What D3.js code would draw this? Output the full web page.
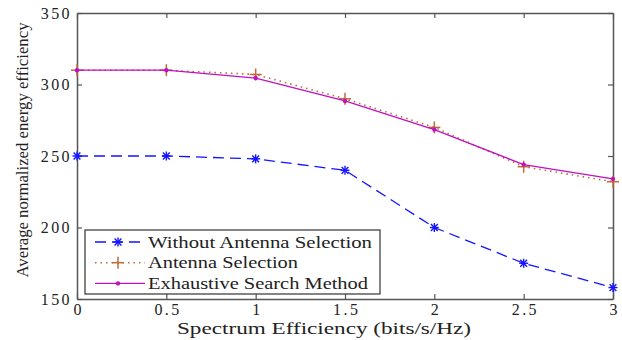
<!DOCTYPE html>
<html>
<head>
<meta charset="utf-8">
<script src="https://cdn.jsdelivr.net/npm/d3@7"></script>
<style>
  body { margin: 0; background: #fff; }
  svg text { font-family: "Liberation Serif", "Times New Roman", serif; fill: #222; }
</style>
</head>
<body>
<div id="chart"></div>
<script>
const xValues = [0, 0.5, 1, 1.5, 2, 2.5, 3];
const withoutSelection = [250, 250, 248, 240, 200, 175, 158];
const antennaSelection = [310, 310, 307, 290, 270, 242.5, 232];
const exhaustiveSearch = [310, 310, 304.5, 288.5, 268.5, 244, 234];
const xTicks = [0, 0.5, 1, 1.5, 2, 2.5, 3];
const yTicks = [150, 200, 250, 300, 350];
const seriesNames = ['Without Antenna Selection', 'Antenna Selection', 'Exhaustive Search Method'];

const W = 622, H = 340;
const margin = { top: 13, right: 9, bottom: 41, left: 77 };
const width = W - margin.left - margin.right;
const height = H - margin.top - margin.bottom;
const serif = '"Liberation Serif", "Times New Roman", serif';

const svg = d3.select('#chart').append('svg')
  .attr('width', W).attr('height', H);
const g = svg.append('g')
  .attr('transform', 'translate(' + margin.left + ',' + margin.top + ')');

const x = d3.scaleLinear().domain([0, 3]).range([0, width]);
const y = d3.scaleLinear().domain([150, 350]).range([height, 0]);

// axes with inward ticks (matlab box style)
const axisColor = '#555';
const axBottom = g.append('g').attr('transform', 'translate(0,' + height + ')')
  .call(d3.axisBottom(x).tickValues(xTicks).tickSizeInner(-5).tickSizeOuter(0).tickPadding(5).tickFormat(d3.format('')));
const axTop = g.append('g')
  .call(d3.axisTop(x).tickValues(xTicks).tickSizeInner(-5).tickSizeOuter(0).tickFormat(''));
const axLeft = g.append('g')
  .call(d3.axisLeft(y).tickValues(yTicks).tickSizeInner(-5).tickSizeOuter(0).tickPadding(5));
const axRight = g.append('g').attr('transform', 'translate(' + width + ',0)')
  .call(d3.axisRight(y).tickValues(yTicks).tickSizeInner(-5).tickSizeOuter(0).tickFormat(''));
[axBottom, axTop, axLeft, axRight].forEach(a => {
  a.selectAll('path.domain').attr('stroke', axisColor).attr('stroke-width', 1.5);
  a.selectAll('line').attr('stroke', axisColor).attr('stroke-width', 1.2);
  a.selectAll('text').style('font-family', serif).style('font-size', '16px')
    .style('letter-spacing', '2.4px').attr('fill', '#222');
});
// compensate the trailing letter-spacing on centred x tick labels
axBottom.selectAll('text').attr('dx', '1.2px');

const series = [
  { name: seriesNames[0], values: withoutSelection, color: '#1414ff', dash: '11,6', marker: 'star', textLen: 224 },
  { name: seriesNames[1], values: antennaSelection, color: '#c06a36', dash: '1.5,4', marker: 'plus', textLen: 150 },
  { name: seriesNames[2], values: exhaustiveSearch, color: '#c010c0', dash: null, marker: 'dot', textLen: 220 }
];

const line = d3.line().x(d => x(d[0])).y(d => y(d[1]));

function drawMarker(sel, type, color, cx, cy) {
  if (type === 'star') {
    // matlab '*' = plus + cross
    const r = 4.5, rd = 3.4;
    [[r, 0], [0, r], [rd, rd], [rd, -rd]].forEach(v => {
      sel.append('line')
        .attr('x1', cx - v[0]).attr('y1', cy - v[1])
        .attr('x2', cx + v[0]).attr('y2', cy + v[1])
        .attr('stroke', color).attr('stroke-width', 1.4);
    });
  } else if (type === 'plus') {
    const r = 6;
    sel.append('line').attr('x1', cx - r).attr('x2', cx + r).attr('y1', cy).attr('y2', cy)
      .attr('stroke', color).attr('stroke-width', 1.5);
    sel.append('line').attr('x1', cx).attr('x2', cx).attr('y1', cy - r).attr('y2', cy + r)
      .attr('stroke', color).attr('stroke-width', 1.5);
  } else {
    sel.append('circle').attr('cx', cx).attr('cy', cy).attr('r', 2.2).attr('fill', color);
  }
}

series.forEach(s => {
  const pts = xValues.map((v, i) => [v, s.values[i]]);
  g.append('path').datum(pts)
    .attr('fill', 'none')
    .attr('stroke', s.color)
    .attr('stroke-width', s.marker === 'plus' ? 1.6 : 1.3)
    .attr('stroke-dasharray', s.dash)
    .attr('d', line);
  const mg = g.append('g');
  pts.forEach(p => drawMarker(mg, s.marker, s.color, x(p[0]), y(p[1])));
});

// legend
const lg = svg.append('g').attr('transform', 'translate(85,230)');
lg.append('rect').attr('width', 295).attr('height', 64)
  .attr('fill', '#fff').attr('stroke', '#333').attr('stroke-width', 1.2);
series.forEach((s, i) => {
  const ly = 12 + i * 20.7;
  lg.append('line').attr('x1', 10).attr('x2', 60).attr('y1', ly).attr('y2', ly)
    .attr('stroke', s.color).attr('stroke-width', s.marker === 'plus' ? 1.6 : 1.3)
    .attr('stroke-dasharray', s.dash);
  drawMarker(lg, s.marker, s.color, 33, ly);
  lg.append('text').attr('x', 63).attr('y', ly).attr('dy', '0.35em')
    .style('font-size', '16px')
    .attr('textLength', s.textLen).attr('lengthAdjust', 'spacingAndGlyphs')
    .text(s.name);
});

// axis labels
svg.append('text').attr('x', 324).attr('y', 334)
  .attr('text-anchor', 'middle').style('font-size', '16px')
  .attr('textLength', 294).attr('lengthAdjust', 'spacingAndGlyphs')
  .text('Spectrum Efficiency (bits/s/Hz)');
svg.append('text')
  .attr('transform', 'translate(22,150) rotate(-90)')
  .attr('text-anchor', 'middle').attr('dy', '0.35em').style('font-size', '16px')
  .attr('textLength', 255).attr('lengthAdjust', 'spacingAndGlyphs')
  .text('Average normalized energy efficiency');
</script>
</body>
</html>
